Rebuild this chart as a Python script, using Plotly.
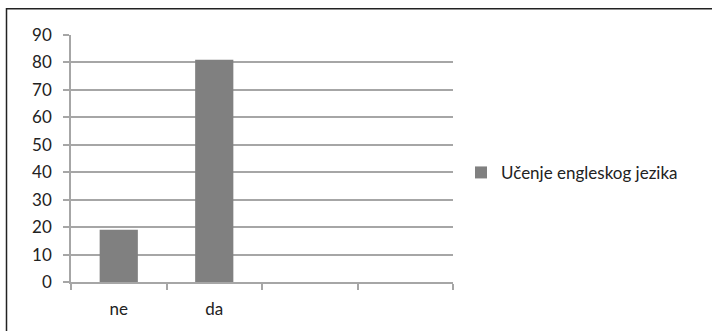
import plotly.graph_objects as go

categories = ["ne", "da"]
values = [19, 81]
series_name = "Učenje engleskog jezika"
y_ticks = [0, 10, 20, 30, 40, 50, 60, 70, 80, 90]
n_slots = 4

W, H = 712, 331
L, R, T, B = 71, 453, 35, 284
pw, ph = R - L, B - T

def px_x(p):
    return (p - L) / pw

def px_y(p):
    return (B - p) / ph

fig = go.Figure()
fig.add_trace(go.Bar(
    x=list(range(len(categories))), y=values, name=series_name,
    marker=dict(color="#808080", line=dict(width=0)),
    width=0.4, showlegend=True,
))

fig.update_layout(
    width=W, height=H,
    margin=dict(l=L, r=W - R, t=T, b=H - B),
    paper_bgcolor="white", plot_bgcolor="white",
    font=dict(family="Lato, 'Open Sans', sans-serif", size=17, color="#222222"),
    showlegend=True,
    legend=dict(x=px_x(461), y=px_y(174), xanchor="left", yanchor="middle",
                font=dict(size=17, color="#222222"), itemwidth=30,
                bgcolor="rgba(0,0,0,0)"),
    bargap=0.6,
)
fig.update_xaxes(
    range=[-0.5, n_slots - 0.5],
    tickvals=list(range(len(categories))), ticktext=categories,
    ticks="", showgrid=False, zeroline=False,
    showline=True, linecolor="#a6a6a6", linewidth=1.5,
    ticklabelstandoff=11,
    minor=dict(tickvals=[i - 0.5 for i in range(n_slots + 1)], ticks="outside",
               ticklen=6, tickcolor="#a6a6a6", tickwidth=1.5, showgrid=False),
)
fig.update_yaxes(
    range=[0, 90], tickvals=y_ticks,
    ticks="outside", ticklen=6, tickcolor="#a6a6a6", tickwidth=1.5,
    showgrid=True, gridcolor="#a6a6a6", gridwidth=1.5,
    zeroline=False, showline=True, linecolor="#a6a6a6", linewidth=1.5,
    ticklabelstandoff=8,
)
fig.add_shape(type="rect", xref="paper", yref="paper",
              x0=px_x(6.5), x1=px_x(716), y0=px_y(335), y1=px_y(8.5),
              line=dict(color="#222222", width=1.5), layer="above")

fig.write_html("out.html")
